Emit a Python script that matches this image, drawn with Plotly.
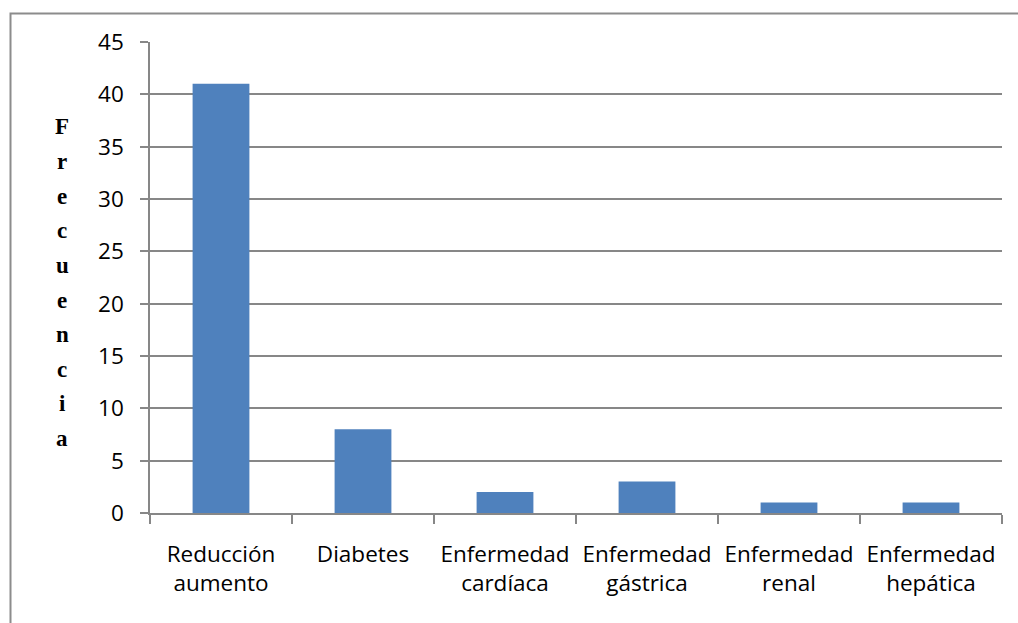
import plotly.graph_objects as go

categories = ["Reducción<br>aumento", "Diabetes", "Enfermedad<br>cardíaca",
              "Enfermedad<br>gástrica", "Enfermedad<br>renal", "Enfermedad<br>hepática"]
frecuencia = [41, 8, 2, 3, 1, 1]
y_ticks = [0, 5, 10, 15, 20, 25, 30, 35, 40, 45]
axis_title = "Frecuencia"

GRID = "#878787"
BAR = "#4F81BD"
FONT = "Open Sans"

fig = go.Figure(
    go.Bar(x=categories, y=frecuencia, marker=dict(color=BAR, line=dict(width=0)),
           width=0.4)
)

fig.update_layout(
    width=1018, height=623,
    margin=dict(l=150, r=16, t=42, b=110),
    paper_bgcolor="white", plot_bgcolor="white",
    showlegend=False,
    font=dict(family=FONT, size=22, color="#000000"),
    bargap=0.6,
)

fig.update_xaxes(
    type="category",
    showline=True, linecolor=GRID, linewidth=1.5,
    ticks="outside", tickson="boundaries", ticklen=9, tickcolor=GRID, tickwidth=1.5,
    showgrid=False,
    tickfont=dict(family=FONT, size=22.5),
    ticklabelstandoff=20,
)
fig.update_yaxes(
    range=[0, 45], tickvals=y_ticks,
    showline=True, linecolor=GRID, linewidth=1.5,
    ticks="outside", ticklen=8, tickcolor=GRID, tickwidth=1.5,
    showgrid=True, gridcolor=GRID, gridwidth=1.5,
    zeroline=False,
    tickfont=dict(family=FONT, size=22.5),
    ticklabelstandoff=12,
)

# vertical axis title, one letter per row
letters = list(axis_title)
top_px, step_px = 127, 34.6
plot_h = 623 - 42 - 110
for i, ch in enumerate(letters):
    y_px = top_px + i * step_px
    fig.add_annotation(
        text=f"<b>{ch}</b>", xref="paper", yref="paper",
        x=(62 - 150) / (1018 - 150 - 16), y=1 - (y_px - 42) / plot_h,
        showarrow=False, xanchor="center", yanchor="middle",
        font=dict(family="Liberation Serif", size=23, color="#000000"),
    )

# outer chart border
fig.add_shape(
    type="rect", xref="paper", yref="paper",
    x0=(10.5 - 150) / (1018 - 150 - 16), x1=1.2,
    y0=-0.5, y1=1 + (42 - 13.5) / plot_h,
    line=dict(color="#8C8C8C", width=2), fillcolor="rgba(0,0,0,0)", layer="below",
)

fig.write_html("out.html")
